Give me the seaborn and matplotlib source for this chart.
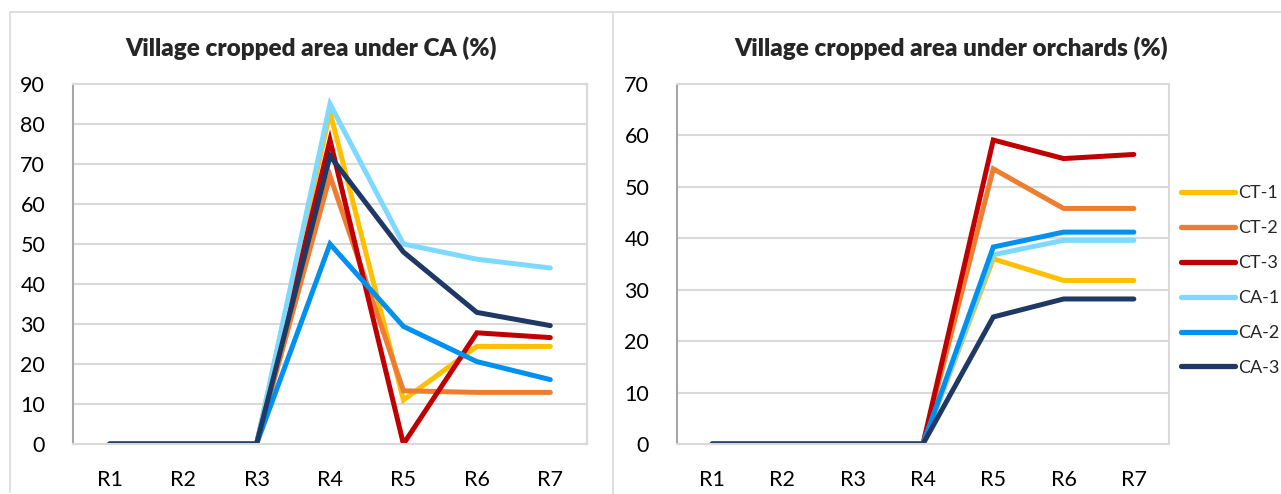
import matplotlib
matplotlib.use("Agg")
import matplotlib.pyplot as plt
from matplotlib.lines import Line2D
import seaborn as sns
import pandas as pd

rounds = ["R1", "R2", "R3", "R4", "R5", "R6", "R7"]
series = ["CT-1", "CT-2", "CT-3", "CA-1", "CA-2", "CA-3"]
colors = ["#FFC000", "#ED7D31", "#C00000", "#7DD9FF", "#0091F0", "#203864"]

# Village cropped area under CA (%)
ca_ct1 = [0, 0, 0, 83, 11, 24.4, 24.4]
ca_ct2 = [0, 0, 0, 67, 13.3, 12.9, 12.9]
ca_ct3 = [0, 0, 0, 76, 0, 27.8, 26.6]
ca_ca1 = [0, 0, 0, 85, 50, 46.2, 44]
ca_ca2 = [0, 0, 0, 50, 29.4, 20.6, 16.1]
ca_ca3 = [0, 0, 0, 72, 48, 32.9, 29.6]

# Village cropped area under orchards (%)
or_ct1 = [0, 0, 0, 0, 36, 31.8, 31.8]
or_ct2 = [0, 0, 0, 0, 53.5, 45.8, 45.8]
or_ct3 = [0, 0, 0, 0, 59.1, 55.5, 56.3]
or_ca1 = [0, 0, 0, 0, 36.8, 39.6, 39.6]
or_ca2 = [0, 0, 0, 0, 38.3, 41.2, 41.2]
or_ca3 = [0, 0, 0, 0, 24.7, 28.2, 28.2]

titles = ["Village cropped area under CA (%)", "Village cropped area under orchards (%)"]
y_max = [90, 70]


def long_df(vals):
    rows = []
    for s, v in zip(series, vals):
        for r, y in zip(rounds, v):
            rows.append({"Round": r, "Series": s, "Value": y})
    return pd.DataFrame(rows)


df_ca = long_df([ca_ct1, ca_ct2, ca_ct3, ca_ca1, ca_ca2, ca_ca3])
df_or = long_df([or_ct1, or_ct2, or_ct3, or_ca1, or_ca2, or_ca3])

sns.set_style("white")
plt.rcParams["font.family"] = ["Lato", "DejaVu Sans"]

W, H = 1281, 494
fig = plt.figure(figsize=(W / 100, H / 100), dpi=100)


def fx(px):
    return px / W


def fy(py):
    return 1 - py / H


# chart frames
frame_c = "#D9D9D9"
fig.add_artist(Line2D([fx(10), fx(1281)], [fy(12), fy(12)], color=frame_c, lw=1.2))
fig.add_artist(Line2D([fx(10), fx(10)], [fy(12), fy(492)], color=frame_c, lw=1.2))
fig.add_artist(Line2D([fx(613), fx(613)], [fy(12), fy(494)], color=frame_c, lw=1.2))

axes_px = [(73, 587), (677, 1169)]
title_cx = [311, 951]
pal = dict(zip(series, colors))

for i, (df, (x0, x1)) in enumerate(zip([df_ca, df_or], axes_px)):
    ax = fig.add_axes([fx(x0), fy(444), fx(x1 - x0), (444 - 84) / H])
    sns.lineplot(data=df, x="Round", y="Value", hue="Series", palette=pal,
                 hue_order=series, linewidth=3.6, ax=ax, legend=False, sort=False)
    for ln in ax.lines:
        ln.set_solid_capstyle("round")
        ln.set_solid_joinstyle("miter")
    ax.set_xlim(-0.5, 6.5)
    ax.set_ylim(0, y_max[i])
    ax.set_yticks(range(0, y_max[i] + 1, 10))
    ax.yaxis.grid(True, color="#D9D9D9", lw=1.5, zorder=0)
    ax.set_axisbelow(True)
    ax.set_xlabel("")
    ax.set_ylabel("")
    ax.tick_params(axis="both", length=0, labelsize=15.5, colors="#000000")
    ax.tick_params(axis="y", pad=20)
    ax.tick_params(axis="x", pad=19)
    for s in ["top", "right", "bottom"]:
        ax.spines[s].set_color("#D9D9D9")
        ax.spines[s].set_linewidth(1.5)
    ax.spines["left"].set_color("#A6A6A6")
    ax.spines["left"].set_linewidth(1.5)
    fig.text(fx(title_cx[i]), fy(48), titles[i], ha="center", va="center",
             fontsize=17.5, fontweight="heavy")

handles = [Line2D([0], [0], color=c, lw=3.8, solid_capstyle="round") for c in colors]
leg = fig.legend(handles, series, loc="upper left",
                 bbox_to_anchor=(fx(1181), fy(185)), frameon=False,
                 fontsize=13, handlelength=3.0, handletextpad=0.15,
                 labelspacing=1.05, borderaxespad=0, borderpad=0)

fig.savefig("out.png", dpi=100)
